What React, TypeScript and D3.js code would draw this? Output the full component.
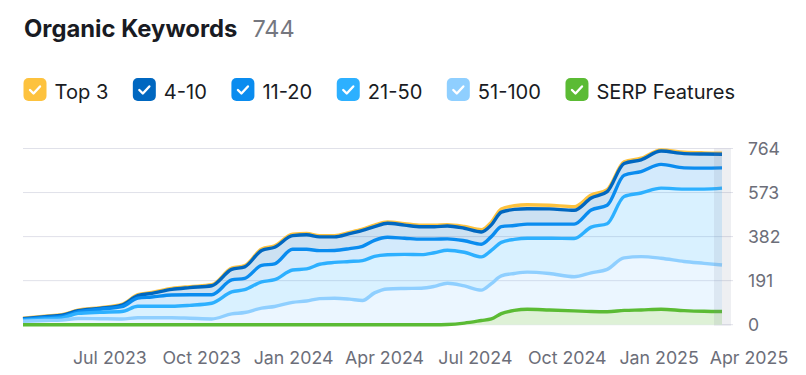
import React, { useEffect, useRef } from "react";
import * as d3 from "d3";

// ---- data ----
const dates = [
  "2023-04-05", "2023-04-27", "2023-05-14", "2023-05-30", "2023-06-21", "2023-07-13",
  "2023-07-29", "2023-08-12", "2023-09-01", "2023-09-19", "2023-10-11", "2023-10-31",
  "2023-11-13", "2023-11-30", "2023-12-13", "2023-12-31", "2024-01-14", "2024-01-27",
  "2024-02-11", "2024-02-26", "2024-03-10", "2024-03-22", "2024-04-04", "2024-04-21",
  "2024-05-08", "2024-05-21", "2024-06-03", "2024-06-20", "2024-07-07", "2024-07-17",
  "2024-07-27", "2024-08-09", "2024-08-22", "2024-09-13", "2024-10-08", "2024-10-25",
  "2024-11-10", "2024-11-27", "2024-12-14", "2025-01-03", "2025-01-26", "2025-02-15",
  "2025-03-05",
];
const top3 = [2, 2, 2, 2, 3, 3, 4, 4, 4, 4, 4, 5, 5, 6, 6, 6, 6, 5, 5, 5, 5, 7, 6, 6, 6, 6, 6, 8, 10, 12, 14, 16, 17, 16, 16, 13, 9, 7, 7, 5, 6, 5, 5];
const pos4to10 = [3, 4, 5, 6, 4, 7, 11, 16, 24, 31, 39, 46, 50, 65, 72, 59, 63, 60, 59, 65, 69, 59, 61, 57, 54, 54, 56, 54, 53, 51, 63, 70, 67, 66, 60, 52, 59, 51, 51, 58, 62, 61, 59];
const pos11to20 = [3, 6, 7, 6, 13, 21, 35, 40, 49, 46, 37, 52, 49, 71, 69, 90, 85, 59, 52, 56, 62, 70, 76, 70, 67, 59, 49, 50, 55, 60, 68, 60, 61, 61, 62, 74, 80, 92, 93, 103, 92, 91, 88];
const pos21to50 = [5, 7, 9, 22, 28, 32, 50, 50, 50, 56, 68, 95, 99, 114, 116, 140, 139, 149, 155, 163, 173, 158, 148, 148, 146, 146, 143, 146, 144, 144, 145, 148, 147, 153, 166, 198, 198, 266, 276, 304, 314, 322, 333];
const pos51to100 = [15, 18, 20, 27, 26, 25, 30, 30, 30, 28, 25, 47, 53, 72, 79, 97, 103, 113, 115, 111, 105, 138, 155, 157, 158, 166, 180, 168, 150, 178, 212, 222, 228, 222, 208, 225, 240, 290, 295, 288, 274, 266, 259];
const serpFeatures = [0, 0, 0, 0, 0, 0, 0, 0, 0, 0, 0, 0, 0, 0, 0, 0, 0, 0, 0, 0, 0, 0, 0, 0, 0, 0, 1, 7, 18, 25, 48, 62, 67, 64, 60, 57, 56, 62, 64, 67, 61, 58, 57];

const totalKeywords = 744;
const yTicks = [0, 191, 382, 573, 764];
const xTickDates = ["2023-07-01", "2023-10-01", "2024-01-01", "2024-04-01", "2024-07-01", "2024-10-01", "2025-01-01", "2025-04-01"];
const xTickLabels = ["Jul 2023", "Oct 2023", "Jan 2024", "Apr 2024", "Jul 2024", "Oct 2024", "Jan 2025", "Apr 2025"];
const legendNames = ["Top 3", "4-10", "11-20", "21-50", "51-100", "SERP Features"];
const legendColors = ["#fdc23e", "#0067c0", "#0a8cef", "#2db0ff", "#8fcfff", "#5bbb34"];

const FONT = "Inter, 'Noto Sans', sans-serif";

export default function App() {
  const ref = useRef<SVGSVGElement | null>(null);

  useEffect(() => {
    const svg = d3.select(ref.current);
    svg.selectAll("*").remove();

    const parse = d3.utcParse("%Y-%m-%d");
    const rows = dates.map((d, i) => ({
      date: parse(d) as Date,
      r51: pos51to100[i],
      r21: pos21to50[i],
      r11: pos11to20[i],
      r4: pos4to10[i],
      t3: top3[i],
      serp: serpFeatures[i],
    }));

    const x = d3
      .scaleUtc()
      .domain([parse("2023-04-05") as Date, parse("2025-03-06") as Date])
      .range([23, 723]);
    const y = d3.scaleLinear().domain([0, 764]).range([324.7, 148.5]);

    // title
    const title = svg
      .append("text")
      .attr("x", 24)
      .attr("y", 36.5)
      .attr("font-family", FONT)
      .attr("font-size", 23.8)
      .attr("font-weight", 700)
      .attr("fill", "#191b23")
      .text("Organic Keywords");
    const tw = (title.node() as SVGTextElement).getComputedTextLength();
    svg
      .append("text")
      .attr("x", 24 + tw + 15)
      .attr("y", 36.5)
      .attr("font-family", FONT)
      .attr("font-size", 23.5)
      .attr("fill", "#75777f")
      .text(String(totalKeywords));

    // legend
    let lx = 23.5;
    legendNames.forEach((name, i) => {
      const g = svg.append("g").attr("transform", `translate(${lx},78)`);
      g.append("rect").attr("width", 23).attr("height", 23).attr("rx", 5).attr("fill", legendColors[i]);
      g.append("path")
        .attr("d", "M6.5,12 L10,15.5 L16.5,8.5")
        .attr("fill", "none")
        .attr("stroke", "#fff")
        .attr("stroke-width", 2.4)
        .attr("stroke-linecap", "round")
        .attr("stroke-linejoin", "round");
      const t = g
        .append("text")
        .attr("x", 31)
        .attr("y", 21)
        .attr("font-family", FONT)
        .attr("font-size", 20.1)
        .attr("fill", "#191b23")
        .text(name);
      const w = (t.node() as SVGTextElement).getComputedTextLength();
      lx += 31 + w + 24.5;
    });

    // grid
    svg
      .append("g")
      .selectAll("line")
      .data(yTicks)
      .join("line")
      .attr("x1", 23)
      .attr("x2", 733)
      .attr("y1", (d) => y(d))
      .attr("y2", (d) => y(d))
      .attr("stroke", "#e0e1e9")
      .attr("stroke-width", 1);

    // y labels
    svg
      .append("g")
      .selectAll("text")
      .data(yTicks)
      .join("text")
      .attr("x", 748)
      .attr("y", (d) => y(d))
      .attr("dy", "0.36em")
      .attr("font-family", FONT)
      .attr("font-size", 17.6)
      .attr("fill", "#6c6e79")
      .text((d) => String(d));

    // x labels
    svg
      .append("g")
      .selectAll("text")
      .data(xTickDates)
      .join("text")
      .attr("x", (d) => x(parse(d) as Date))
      .attr("y", 364)
      .attr("text-anchor", "middle")
      .attr("font-family", FONT)
      .attr("font-size", 17.8)
      .attr("fill", "#6c6e79")
      .text((_, i) => xTickLabels[i]);

    // stacked series
    const keys = ["r51", "r21", "r11", "r4", "t3"];
    const colorByKey: Record<string, string> = {
      r51: legendColors[4],
      r21: legendColors[3],
      r11: legendColors[2],
      r4: legendColors[1],
      t3: legendColors[0],
    };
    const stack = d3.stack<any>().keys(keys);
    const layers = stack(rows as any);
    const curve = d3.curveMonotoneX;

    const area = d3
      .area<any>()
      .x((d) => x(d.data.date))
      .y0((d) => y(d[0]))
      .y1((d) => y(d[1]))
      .curve(curve);
    const line = d3
      .line<any>()
      .x((d) => x(d.data.date))
      .y((d) => y(d[1]))
      .curve(curve);

    const gArea = svg.append("g");
    layers.forEach((layer) => {
      gArea
        .append("path")
        .attr("d", area(layer) as string)
        .attr("fill", colorByKey[layer.key])
        .attr("fill-opacity", layer.key === "r4" ? 0.2 : 0.18);
    });

    // serp features area
    const serpArea = d3
      .area<any>()
      .x((d) => x(d.date))
      .y0(y(0))
      .y1((d) => y(d.serp))
      .curve(curve);
    svg.append("path").attr("d", serpArea(rows) as string).attr("fill", "#fff");
    svg
      .append("path")
      .attr("d", serpArea(rows) as string)
      .attr("fill", legendColors[5])
      .attr("fill-opacity", 0.2);

    // lines: top first so lower layers overlap
    const gLine = svg.append("g");
    [...layers].reverse().forEach((layer) => {
      gLine
        .append("path")
        .attr("d", line(layer) as string)
        .attr("fill", "none")
        .attr("stroke", colorByKey[layer.key])
        .attr("stroke-width", 3.4)
        .attr("stroke-linejoin", "round");
    });
    const serpLine = d3
      .line<any>()
      .x((d) => x(d.date))
      .y((d) => y(d.serp))
      .curve(curve);
    svg
      .append("path")
      .attr("d", serpLine(rows) as string)
      .attr("fill", "none")
      .attr("stroke", legendColors[5])
      .attr("stroke-width", 3.4);

    // hover band at last point
    const lastX = x(rows[rows.length - 1].date);
    svg
      .append("rect")
      .attr("x", lastX - 8)
      .attr("y", y(764))
      .attr("width", 17)
      .attr("height", y(0) - y(764) + 1)
      .attr("fill", "#7c879a")
      .attr("fill-opacity", 0.13);
  }, []);

  return (
    <svg
      ref={ref}
      width={806}
      height={375}
      style={{ position: "absolute", left: 0, top: 0, background: "#fff" }}
    />
  );
}
